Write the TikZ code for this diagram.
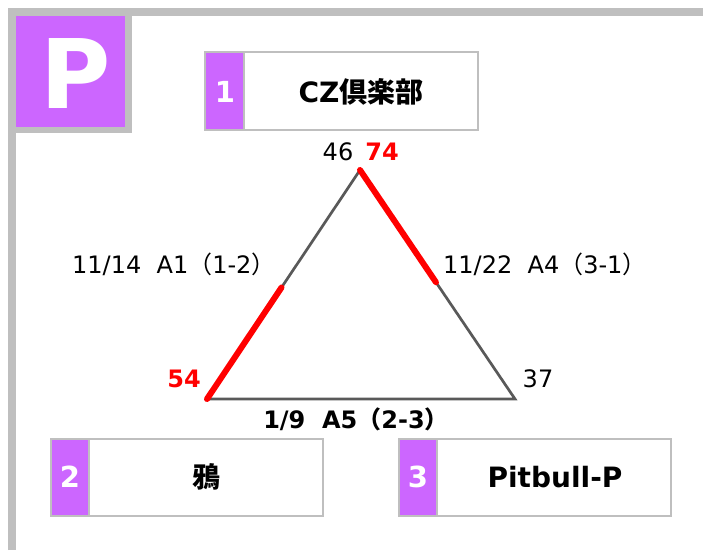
\documentclass[tikz,border=0pt]{standalone}
\usepackage{fontspec}
\setmainfont{DejaVu Sans}
\newfontfamily\jp{Noto Sans CJK JP}
\usetikzlibrary{calc}
\definecolor{pbg}{HTML}{CC66FF}
\definecolor{frm}{HTML}{BFBFBF}
\definecolor{edge}{HTML}{595959}
\definecolor{rd}{HTML}{FF0000}
\tikzset{
  numbox/.style={fill=pbg,draw=frm,line width=2.5pt},
  namebox/.style={fill=white,draw=frm,line width=2.5pt},
  numtxt/.style={anchor=base,text=white,font=\fontsize{29}{31}\selectfont\bfseries,inner sep=0},
  nametxt/.style={anchor=base,text=black,font=\fontsize{28}{30}\selectfont\bfseries,inner sep=0},
  lbl/.style={anchor=base,font=\fontsize{24}{27}\selectfont,inner sep=0},
  redlbl/.style={anchor=base,text=rd,font=\fontsize{24}{27}\selectfont\bfseries,inner sep=0},
  tri/.style={draw=edge,line width=2.7pt},
  hit/.style={draw=rd,line width=6pt,line cap=round}
}
\begin{document}
\begin{tikzpicture}[x=1pt,y=-1pt]
\useasboundingbox (0,0) rectangle (703,550);
% frame
\draw[frm,line width=8pt] (12,550) -- (12,12) -- (703,12);
% P block
\fill[frm] (16,16) rectangle (132,133);
\fill[pbg] (16,16) rectangle (125,127);
\node[anchor=base,text=white,inner sep=0,font=\fontsize{96}{100}\selectfont\bfseries] (P) at (76,108) {P};
% box 1
\draw[namebox] (205,52) rectangle (478,130);
\draw[numbox] (205,52) rectangle (244,130);
\node[numtxt] (n1) at (225,102) {1};
\node[nametxt] (t1) at (361,102) {CZ{\jp 倶楽部}};
% box 2
\draw[namebox] (51,439) rectangle (323,516);
\draw[numbox] (51,439) rectangle (89,516);
\node[numtxt] (n2) at (70,487) {2};
\node[nametxt] (t2) at (206,487) {\jp 鴉};
% box 3
\draw[namebox] (399,439) rectangle (671,516);
\draw[numbox] (399,439) rectangle (437,516);
\node[numtxt] (n3) at (418,487) {3};
\node[nametxt] (t3) at (555,487) {Pitbull-P};
% triangle
\coordinate (A) at (360,170);
\coordinate (B) at (207,399);
\coordinate (C) at (515,399);
\draw[tri,line join=miter] (B) -- (A) -- (C) -- cycle;
\draw[hit] (B) -- ($(B)!0.487!(A)$);
\draw[hit] (A) -- ($(A)!0.49!(C)$);
% scores
\node[lbl] (s46) at (338,160) {46};
\node[redlbl] (s74) at (382,160) {74};
\node[redlbl] (s54) at (184,387) {54};
\node[lbl] (s37) at (538,387) {37};
% match labels
\node[lbl,anchor=base west] (m1) at (72,273) {11/14\ \ A1{\jp （}1-2{\jp ）}};
\node[lbl,anchor=base west] (m2) at (443,273) {11/22\ \ A4{\jp （}3-1{\jp ）}};
\node[lbl,anchor=base,font=\fontsize{24}{27}\selectfont\bfseries] (m3) at (356,428) {1/9\ \ A5{\jp （}2-3{\jp ）}};
\end{tikzpicture}
\end{document}
